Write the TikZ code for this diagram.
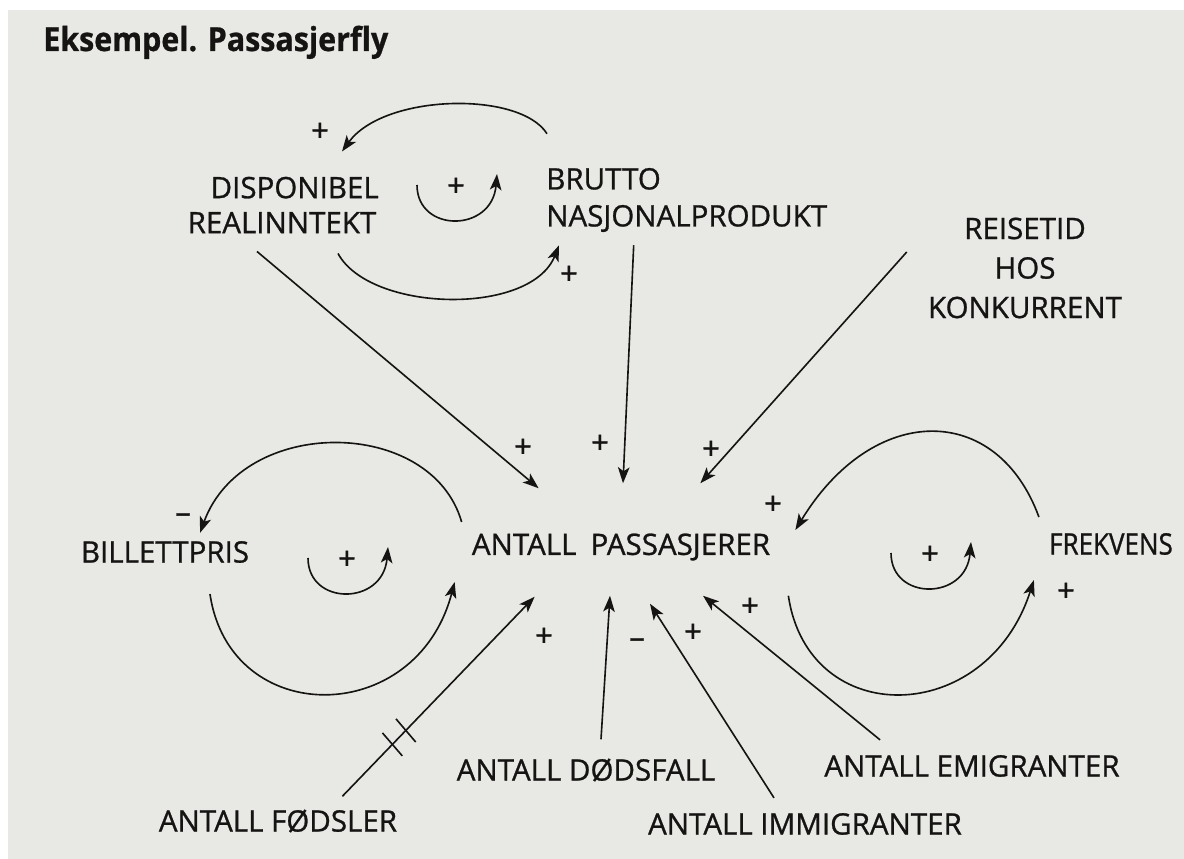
\documentclass[tikz,border=0pt]{standalone}
\usepackage{fontspec}
\setmainfont{Open Sans}
\usetikzlibrary{arrows.meta}
\usetikzlibrary{calc}

\definecolor{paper}{RGB}{232,232,229}
\definecolor{ink}{RGB}{22,19,19}

\tikzstyle{var}=[inner sep=0pt, text=ink, font=\fontsize{21}{26}\selectfont\addfontfeatures{FakeBold=0.9}]
\tikzstyle{sign}=[inner sep=0pt, text=ink, font=\fontsize{22}{26}\selectfont\addfontfeatures{FakeBold=1.2}]
\tikzstyle{link}=[-{Stealth[length=4mm,width=2.9mm,inset=1mm]}, line width=1.15pt, draw=ink]

% little self-reinforcing loop with its sign in the middle
\newcommand{\drawloop}[3]{
  \draw[link] (#1-39,#2-2) .. controls (#1-39,#2+46) and (#1+36,#2+46) .. (#1+41,#2-13);
  \node[sign] (#3) at (#1,#2) {+};
}

\begin{document}
\begin{tikzpicture}[x=0.025cm,y=-0.025cm]
  \useasboundingbox (0,0) rectangle (1184,859);
  \fill[white] (0,0) rectangle (1184,859);
  \fill[paper] (8,10) rectangle (1184,859);

  \node[anchor=base west, inner sep=0pt, text=ink, font=\fontsize{23.5}{28}\selectfont\bfseries\addfontfeatures{FakeStretch=0.92,FakeBold=0.8}] (title) at (43,51) {Eksempel. Passasjerfly};

  % variables
  \node[var, align=center, font=\fontsize{21}{24.9}\selectfont\addfontfeatures{FakeBold=0.9}] (dri) at (282,205) {\hspace*{18pt}DISPONIBEL\\REALINNTEKT};
  \node[var, align=left, anchor=west, font=\fontsize{21}{26.3}\selectfont\addfontfeatures{FakeBold=0.9}] (bnp) at (546,200) {BRUTTO\\NASJONALPRODUKT};
  \node[var, align=center, font=\fontsize{21}{28.1}\selectfont\addfontfeatures{FakeBold=0.9}] (reise) at (1025,268) {REISETID\\HOS\\KONKURRENT};
  \node[var] (billett) at (165,552) {BILLETTPRIS};
  \node[var] (pass) at (621,547) {ANTALL\hspace{10pt}PASSASJERER};
  \node[var, font=\fontsize{21}{26}\selectfont\addfontfeatures{FakeBold=0.9,FakeStretch=0.88}] (frek) at (1111,544) {FREKVENS};
  \node[var] (fodsler) at (278,821) {ANTALL FØDSLER};
  \node[var] (dodsfall) at (586,770) {ANTALL DØDSFALL};
  \node[var] (immig) at (805,824) {ANTALL IMMIGRANTER};
  \node[var] (emig) at (972,766) {ANTALL EMIGRANTER};

  % straight influences into the passenger count
  \draw[link] ([shift={(-25,18)}]dri.south) -- ([shift={(67,-45)}]pass.north west);
  \draw[link] ([shift={(-53,13)}]bnp.south) -- ([shift={(2,-50)}]pass.north);
  \draw[link] ([shift={(-21,-16)}]reise.west) -- ([shift={(-70,-50)}]pass.north east);
  \draw[link] ([shift={(15,-19)}]dodsfall.north) -- ([shift={(-11,35)}]pass.south);
  \draw[link] ([shift={(-31,-15)}]immig.north) -- ([shift={(29,43)}]pass.south);
  \draw[link] ([shift={(56,-15)}]emig.north west) -- ([shift={(82,35)}]pass.south);
  \draw[link] ([shift={(-55,-13)}]fodsler.north east) -- coordinate[pos=0.26] (h1) coordinate[pos=0.33] (h2) ([shift={(63,36)}]pass.south west);
  % delay marks
  \draw[ink, line width=1.15pt] ($(h1)!3.8mm!90:(pass)$) -- ($(h1)!3.8mm!-90:(pass)$);
  \draw[ink, line width=1.15pt] ($(h2)!3.8mm!90:(pass)$) -- ($(h2)!3.8mm!-90:(pass)$);

  % feedback arcs
  \draw[link] ([shift={(1,-34)}]bnp.north west) .. controls +(-27,-43) and +(42,-58) .. ([shift={(60,-25)}]dri.north);
  \draw[link] ([shift={(56,20)}]dri.south) .. controls +(32,59) and +(-28,71) .. ([shift={(13,13)}]bnp.south west);
  \draw[link] ([shift={(-10,-25)}]pass.west) .. controls +(-30,-105) and +(43,-118) .. ([shift={(35,-8)}]billett.north);
  \draw[link] ([shift={(45,31)}]billett.south) .. controls +(20,135) and +(-38,146) .. ([shift={(-17,35)}]pass.west);
  \draw[link] ([shift={(-10,-27)}]frek.west) .. controls +(-42,-115) and +(78,-128) .. ([shift={(25,-17)}]pass.east);
  \draw[link] ([shift={(18,35)}]pass.south east) .. controls +(20,135) and +(-47,147) .. ([shift={(-15,36)}]frek.west);

  \drawloop{456}{187}{l1}
  \drawloop{347}{560}{l2}
  \drawloop{930}{555}{l3}

  % polarities
  \foreach \x/\y/\s/\n in {320/132/+/s1, 569/275/+/s2, 523/448/+/s3, 600/444/+/s4,
      711/450/+/s5, 773/505/+/s6, 1066/592/+/s7, 750/607/+/s8, 693/633/+/s9,
      637/643/–/s10, 544/637/+/s11, 183/518/–/s12}
    \node[sign] (\n) at (\x,\y) {\s};
\end{tikzpicture}
\end{document}
